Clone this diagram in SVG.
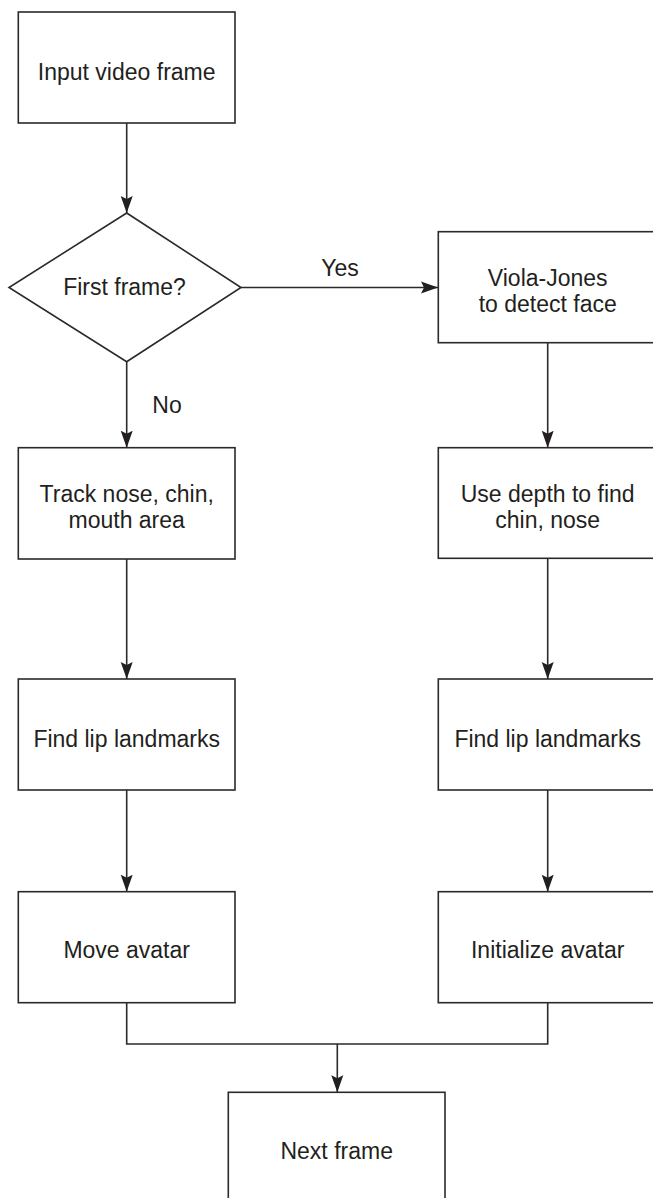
<svg xmlns="http://www.w3.org/2000/svg" width="653" height="1198" viewBox="0 0 653 1198">
<style>
.box{fill:#fff;stroke:#2a2a2a;stroke-width:1.6}
.edge{fill:none;stroke:#2a2a2a;stroke-width:1.6}
.t{font-family:"Liberation Sans",Arial,Helvetica,sans-serif;font-size:23px;fill:#231f20;text-anchor:middle}
</style>
<defs>
<marker id="arr" markerUnits="userSpaceOnUse" markerWidth="18" markerHeight="13" refX="17" refY="6.5" orient="auto">
<path d="M0,0.5 L17,6.5 L0,12.5 L3,6.5 z" fill="#231f20"/>
</marker>
</defs>
<rect width="653" height="1198" fill="#fff"/>
<g id="connectors">
<line class="edge" x1="126.7" y1="123" x2="126.7" y2="213" marker-end="url(#arr)"/>
<line class="edge" x1="241" y1="287.5" x2="438" y2="287.5" marker-end="url(#arr)"/>
<line class="edge" x1="126.7" y1="361.7" x2="126.7" y2="447.7" marker-end="url(#arr)"/>
<line class="edge" x1="126.7" y1="559" x2="126.7" y2="679" marker-end="url(#arr)"/>
<line class="edge" x1="126.7" y1="790" x2="126.7" y2="891.7" marker-end="url(#arr)"/>
<line class="edge" x1="547.7" y1="342.7" x2="547.7" y2="447.7" marker-end="url(#arr)"/>
<line class="edge" x1="547.7" y1="558.3" x2="547.7" y2="679" marker-end="url(#arr)"/>
<line class="edge" x1="547.7" y1="790" x2="547.7" y2="891.7" marker-end="url(#arr)"/>
<polyline class="edge" points="126.7,1002.7 126.7,1044 547.7,1044 547.7,1002.7"/>
<line class="edge" x1="337.3" y1="1044" x2="337.3" y2="1092.3" marker-end="url(#arr)"/>
<text class="t" x="340" y="276">Yes</text>
<text class="t" x="167" y="413">No</text>
</g>
<g id="input">
<rect class="box" x="18.3" y="12" width="216.7" height="111"/>
<text class="t" x="126.7" y="80">Input video frame</text>
</g>
<g id="decision">
<polygon class="box" points="126.7,213 241,287.5 126.7,361.7 9,287.5"/>
<text class="t" x="124.5" y="295">First frame?</text>
</g>
<g id="viola">
<rect class="box" x="438.3" y="231.7" width="219" height="111"/>
<text class="t" x="547.7" y="286">Viola-Jones</text>
<text class="t" x="547.7" y="311.7">to detect face</text>
</g>
<g id="track">
<rect class="box" x="18.3" y="447.7" width="216.7" height="111.3"/>
<text class="t" x="126.7" y="501.7">Track nose, chin,</text>
<text class="t" x="126.7" y="528">mouth area</text>
</g>
<g id="depth">
<rect class="box" x="438.3" y="447.7" width="219" height="110.6"/>
<text class="t" x="547.7" y="501.7">Use depth to find</text>
<text class="t" x="547.7" y="528.3">chin, nose</text>
</g>
<g id="lipL">
<rect class="box" x="18.3" y="679" width="216.7" height="111"/>
<text class="t" x="126.7" y="746.7">Find lip landmarks</text>
</g>
<g id="lipR">
<rect class="box" x="438.3" y="679" width="219" height="111"/>
<text class="t" x="547.7" y="746.7">Find lip landmarks</text>
</g>
<g id="move">
<rect class="box" x="18.3" y="891.7" width="216.7" height="111"/>
<text class="t" x="126.7" y="958.3">Move avatar</text>
</g>
<g id="init">
<rect class="box" x="438.3" y="891.7" width="219" height="111"/>
<text class="t" x="547.7" y="958.3">Initialize avatar</text>
</g>
<g id="next">
<rect class="box" x="228.3" y="1092.3" width="216.7" height="120"/>
<text class="t" x="336.7" y="1159.3">Next frame</text>
</g>
</svg>
